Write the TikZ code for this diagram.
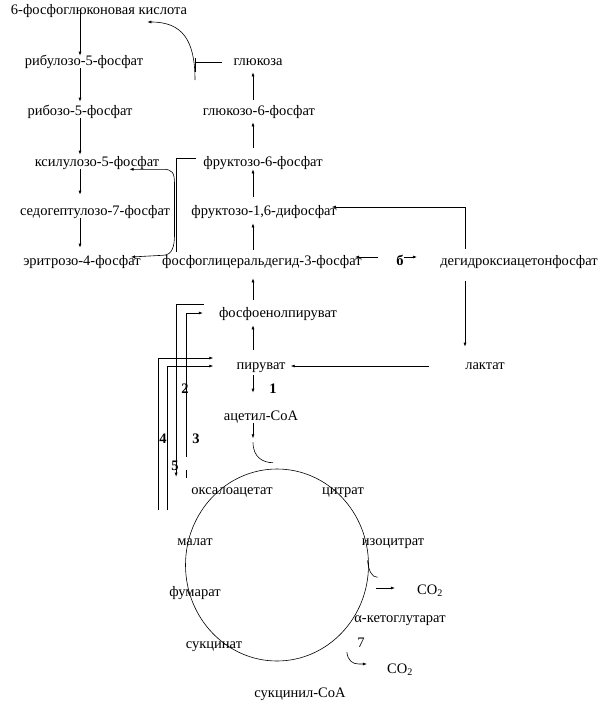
\documentclass[tikz,border=0pt]{standalone}
\usepackage{fontspec}
\setmainfont{Liberation Serif}
\usetikzlibrary{arrows.meta,shapes.geometric}

\begin{document}
\begin{tikzpicture}[x=1pt,y=-1pt,>={Latex[length=4pt,width=3pt]},
    every node/.style={inner sep=0pt,text height=9pt,text depth=3pt,
        font=\fontsize{14.5}{16}\selectfont},
    num/.style={font=\fontsize{14.5}{16}\selectfont\bfseries},
    every path/.style={line width=0.6pt}]
    \useasboundingbox (0,0) rectangle (612,720);

    \coordinate (colL) at (80,0);
    \coordinate (colR) at (253,0);
    \coordinate (hk) at (195,62);

    \node (pg6) at (99,11) {6-фосфоглюконовая кислота};
    \node (rbl) at (84,62) {рибулозо-5-фосфат};
    \node (rbz) at (80,112) {рибозо-5-фосфат};
    \node (xyl) at (97,163) {ксилулозо-5-фосфат};
    \node (sed) at (95,212) {седогептулозо-7-фосфат};
    \node (ery) at (82,262) {эритрозо-4-фосфат};
    \node (glc) at (258,62) {глюкоза};
    \node (g6p) at (259,112) {глюкозо-6-фосфат};
    \node (f6p) at (263,163) {фруктозо-6-фосфат};
    \node (f16) at (264,212) {фруктозо-1,6-дифосфат};
    \node (pga) at (262,262) {фосфоглицеральдегид-3-фосфат};
    \node (dhap) at (519,262) {дегидроксиацетонфосфат};
    \node (pep) at (278,314) {фосфоенолпируват};
    \node (pyr) at (261,366) {пируват};
    \node (lac) at (485,366) {лактат};
    \node (acoa) at (261,417) {ацетил-CoA};
    \node (oaa) at (232,491) {оксалоацетат};
    \node (cit) at (343,491) {цитрат};
    \node (mal) at (195,542) {малат};
    \node (icit) at (393,542) {изоцитрат};
    \node (fum) at (195,593) {фумарат};
    \node (co2a) at (430,591) {CO\textsubscript{2}};
    \node (akg) at (400,619) {α-кетоглутарат};
    \node (suc) at (214,645) {сукцинат};
    \node (co2b) at (400,670) {CO\textsubscript{2}};
    \node (sca) at (300,694) {сукцинил-CoA};

    \node[num] (e1) at (273,390) {1};
    \node[num] (e2) at (185,390) {2};
    \node[num] (e3) at (196,440) {3};
    \node[num] (e4) at (163,440) {4};
    \node[num] (e5) at (175,467) {5};
    \node[num] (e6) at (400,262) {б};
    \node (e7) at (361,644) {7};

    \node[draw,ellipse,minimum width=183pt,minimum height=192pt] (tca) at (277,565) {};

    \draw[->] (pg6 -| colL) -- (rbl.north -| colL);
    \draw[->,shorten >=4pt] (rbl.south -| colL) -- (rbz.north -| colL);
    \draw[->,shorten >=2pt] (rbz.south -| colL) -- (xyl.north -| colL);
    \draw[->,shorten >=11pt] (xyl.south -| colL) -- (sed.north -| colL);
    \draw[->,shorten >=8pt] (sed.south -| colL) -- (ery.north -| colL);

    \draw[->,shorten <=6pt,shorten >=4pt] (g6p.north -| colR) -- (glc.south -| colR);
    \draw[->,shorten <=9pt,shorten >=4pt] (f6p.north -| colR) -- (g6p.south -| colR);
    \draw[->,shorten <=9pt] (f16.north -| colR) -- (f6p.south -| colR);
    \draw[->,shorten <=6pt,shorten >=5pt] (pga.north -| colR) -- (f16.south -| colR);
    \draw[->,shorten <=8pt,shorten >=10pt] (pep.north -| colR) -- (pga.south -| colR);
    \draw[->,shorten <=10pt,shorten >=5pt] (pyr.north -| colR) -- (pep.south -| colR);
    \draw[->,shorten <=3pt,shorten >=18pt] (pyr.south -| colR) -- (acoa.north -| colR);
    \draw[->] (acoa.south -| colR) -- ++(0,15);
    \draw ([yshift=-19pt]acoa.south -| colR) .. controls +(0,15) and +(-10,0) .. ([xshift=-4pt,yshift=6pt]tca.north);

    \draw (glc.west) ++(-11,0) -- (hk);
    \draw ([yshift=4pt]hk) -- ([yshift=-10pt]hk);
    \draw[->] ([yshift=-18pt]hk) .. controls +(0,-40) and +(35,0) .. ([xshift=-40pt,yshift=-11pt]pg6.east);

    \draw (f6p.west) ++(-7,-5) -| ([xshift=14pt,yshift=4pt]pga.north west);
    \draw[<->] ([xshift=-30pt]xyl.south east) -- ++(33,0) .. controls +(10,0) and +(0,-12) .. ++(12,15)
        -- ++(0,50) .. controls +(0,12) and +(10,0) .. ++(-12,21) -- ([xshift=-10pt,yshift=5pt]ery.east);

    \draw[->] ([xshift=-18pt,yshift=5pt]e6.west) -- ([xshift=-7pt,yshift=5pt]pga.east);
    \draw[->] ([yshift=5pt]e6.east) -- ([xshift=-23pt,yshift=5pt]dhap.west);
    \draw[->,shorten <=7pt] (dhap.north -| lac.west) |- ([xshift=-5pt,yshift=5pt]f16.east);
    \draw[->,shorten <=13pt,shorten >=13pt] (dhap.south -| lac.west) -- (lac.north west);
    \draw[->,shorten <=36pt,shorten >=5pt] (lac.west) -- (pyr.east);

    \draw[->] ([xshift=-15pt,yshift=10pt]pep.west) -| ([xshift=-15pt,yshift=8pt]oaa.north west);
    \draw[->] ([xshift=-5pt,yshift=28pt]oaa.north west) |- ([xshift=-16pt,yshift=1pt]pep.west);
    \draw ([xshift=-5pt,yshift=15pt]oaa.north west) -- ++(0,8);
    \draw[->] ([xshift=-19pt,yshift=26pt]mal.north west) |- ([xshift=-23pt,yshift=8pt]pyr.west);
    \draw[->] ([xshift=-10pt,yshift=26pt]mal.north west) |- ([xshift=-23pt]pyr.west);

    \draw ([xshift=6pt,yshift=-12pt]icit.south west) .. controls +(1,10) and +(-6,0) .. ++(10,17);
    \draw[->] ([xshift=-41pt,yshift=3pt]co2a.west) -- ([xshift=-22pt,yshift=3pt]co2a.west);
    \draw[->] ([xshift=-40pt,yshift=18pt]co2b.west) .. controls +(1,9) and +(-6,0) .. ++(12,12)
        -- ([xshift=-20pt,yshift=6pt]co2b.west);
\end{tikzpicture}
\end{document}
